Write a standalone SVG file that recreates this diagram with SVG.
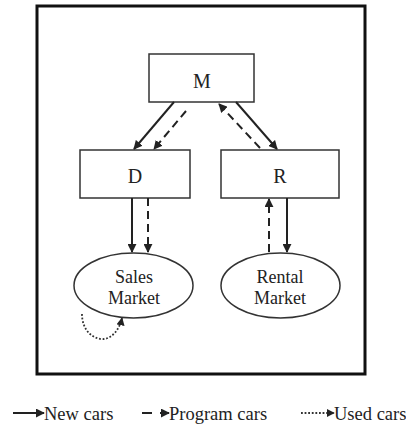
<svg xmlns="http://www.w3.org/2000/svg" width="406" height="427" viewBox="0 0 406 427">
<style>
.box{fill:#fff;stroke:#333;stroke-width:1.5}
.lbl{font-family:"Liberation Serif","Times New Roman","DejaVu Serif",serif;font-size:20px;fill:#222;text-anchor:middle}
.mk{font-family:"Liberation Serif","Times New Roman","DejaVu Serif",serif;font-size:18px;fill:#222;text-anchor:middle}
.leg{font-family:"Liberation Serif","Times New Roman","DejaVu Serif",serif;font-size:18.5px;fill:#222}
.solid{stroke:#222;stroke-width:2;fill:none;marker-end:url(#ah)}
.dash{stroke:#222;stroke-width:2;fill:none;stroke-dasharray:8,5;marker-end:url(#ah)}
.dot{stroke:#333;stroke-width:1.8;fill:none;stroke-dasharray:1.8,1.8;marker-end:url(#ah)}
</style>
<defs>
<marker id="ah" viewBox="0 0 10 10" refX="9" refY="5" markerWidth="4.5" markerHeight="4.5" orient="auto" markerUnits="strokeWidth">
<path d="M0,0 L10,5 L0,10 z" fill="#222"/>
</marker>
</defs>
<rect x="0" y="0" width="406" height="427" fill="#fff"/>
<rect x="37" y="6" width="328" height="368" fill="none" stroke="#111" stroke-width="3"/>
<g id="node-M"><rect class="box" x="149" y="54" width="105" height="48"/><text class="lbl" x="202" y="88">M</text></g>
<g id="node-D"><rect class="box" x="80" y="150" width="110" height="48"/><text class="lbl" x="135" y="183">D</text></g>
<g id="node-R"><rect class="box" x="221" y="150" width="118" height="48"/><text class="lbl" x="280" y="183">R</text></g>
<g id="node-sales"><ellipse class="box" cx="133.5" cy="285.5" rx="59.5" ry="32.5"/><text class="mk" x="134" y="283">Sales</text><text class="mk" x="134" y="304">Market</text></g>
<g id="node-rental"><ellipse class="box" cx="280.5" cy="285.5" rx="59.5" ry="32.5"/><text class="mk" x="280" y="283">Rental</text><text class="mk" x="280" y="304">Market</text></g>
<g id="connectors">
<line class="solid" x1="174" y1="102" x2="134" y2="149"/>
<line class="dash" x1="186" y1="111" x2="154" y2="149"/>
<line class="dash" x1="260" y1="148" x2="219" y2="104"/>
<line class="solid" x1="236" y1="102" x2="277" y2="149"/>
<line class="solid" x1="132" y1="198" x2="132" y2="252"/>
<line class="dash" x1="148" y1="198" x2="148" y2="252"/>
<line class="dash" x1="269" y1="252" x2="269" y2="199"/>
<line class="solid" x1="287" y1="198" x2="287" y2="252"/>
<path class="dot" d="M82,314 C82,332 95,340 104,339 C113,338 120,328 122,318"/>
</g>
<g id="legend">
<line class="solid" x1="13" y1="413" x2="44" y2="413"/>
<text class="leg" x="44" y="420">New cars</text>
<line stroke="#222" stroke-width="2" x1="142" y1="413" x2="152" y2="413"/>
<line class="solid" x1="160" y1="413" x2="169" y2="413"/>
<text class="leg" x="169" y="420">Program cars</text>
<line class="dot" x1="301" y1="413" x2="334" y2="413"/>
<text class="leg" x="334" y="420">Used cars</text>
</g>
</svg>
